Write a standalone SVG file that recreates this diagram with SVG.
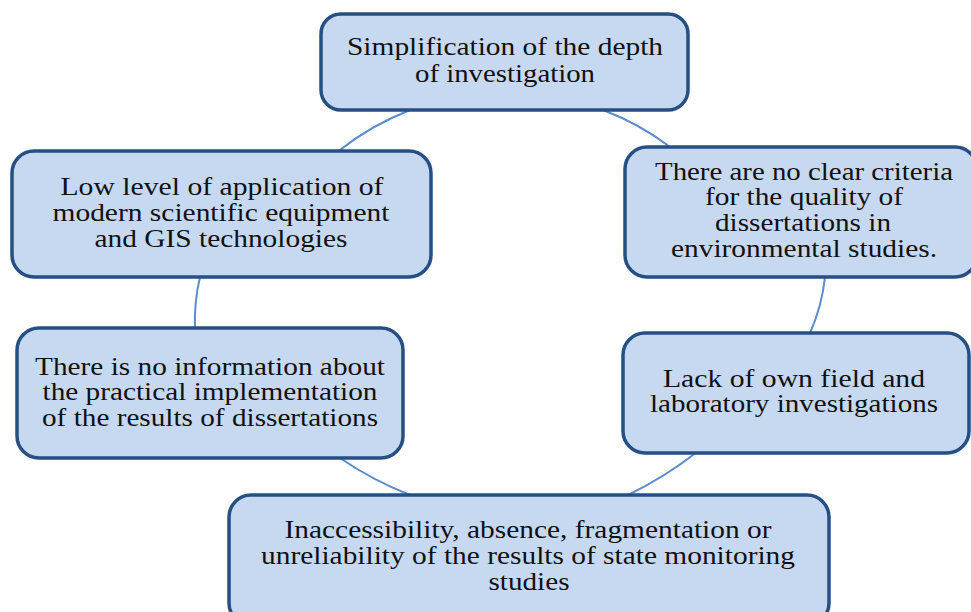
<svg xmlns="http://www.w3.org/2000/svg" width="971" height="612" viewBox="0 0 971 612">
<style>
.box{fill:#c6d9f1;stroke:#264f84;stroke-width:3.5}
.t{font-family:'Liberation Serif',serif;font-size:25px;fill:#111;text-anchor:middle}
.c{fill:none;stroke:#5b8ccc;stroke-width:2}
</style>
<rect width="971" height="612" fill="#fff"/>
<g id="connectors">
<path class="c" d="M410,110 Q370,126 340,150"/>
<path class="c" d="M603,110 Q640,124 670,147"/>
<path class="c" d="M200,277 Q194,302 195,328"/>
<path class="c" d="M825,277 Q822,306 810,333"/>
<path class="c" d="M340,458 Q372,480 410,495"/>
<path class="c" d="M697,452 Q665,477 628,495"/>
</g>
<g id="n1">
<rect class="box" x="321" y="14" width="367" height="96" rx="20"/>
<text class="t" x="505" y="55" textLength="316" lengthAdjust="spacingAndGlyphs">Simplification  of the depth</text>
<text class="t" x="505" y="82" textLength="180" lengthAdjust="spacingAndGlyphs">of investigation</text>
</g>
<g id="n2">
<rect class="box" x="12" y="151" width="419" height="126" rx="22"/>
<text class="t" x="222" y="195" textLength="323" lengthAdjust="spacingAndGlyphs">Low level  of application of</text>
<text class="t" x="221" y="221" textLength="337" lengthAdjust="spacingAndGlyphs">modern scientific  equipment</text>
<text class="t" x="221" y="247" textLength="253" lengthAdjust="spacingAndGlyphs">and GIS technologies</text>
</g>
<g id="n3">
<rect class="box" x="625" y="147" width="352" height="130" rx="22"/>
<text class="t" x="804" y="180" textLength="298" lengthAdjust="spacingAndGlyphs">There are no clear criteria</text>
<text class="t" x="804" y="205" textLength="198" lengthAdjust="spacingAndGlyphs">for the quality of</text>
<text class="t" x="803" y="231" textLength="176" lengthAdjust="spacingAndGlyphs">dissertations in</text>
<text class="t" x="804" y="257" textLength="266" lengthAdjust="spacingAndGlyphs">environmental studies.</text>
</g>
<g id="n4">
<rect class="box" x="17" y="328" width="386" height="130" rx="22"/>
<text class="t" x="210" y="375" textLength="350" lengthAdjust="spacingAndGlyphs">There is no information about</text>
<text class="t" x="210" y="400" textLength="335" lengthAdjust="spacingAndGlyphs">the practical  implementation</text>
<text class="t" x="210" y="426" textLength="336" lengthAdjust="spacingAndGlyphs">of the results of dissertations</text>
</g>
<g id="n5">
<rect class="box" x="623" y="333" width="346" height="120" rx="22"/>
<text class="t" x="794" y="387" textLength="262" lengthAdjust="spacingAndGlyphs">Lack of own field and</text>
<text class="t" x="794" y="412" textLength="288" lengthAdjust="spacingAndGlyphs">laboratory investigations</text>
</g>
<g id="n6">
<rect class="box" x="229" y="495" width="600" height="130" rx="22"/>
<text class="t" x="528" y="538" textLength="487" lengthAdjust="spacingAndGlyphs">Inaccessibility,  absence, fragmentation or</text>
<text class="t" x="528" y="564" textLength="534" lengthAdjust="spacingAndGlyphs">unreliability  of the results of state monitoring</text>
<text class="t" x="529" y="590" textLength="81" lengthAdjust="spacingAndGlyphs">studies</text>
</g>
</svg>
